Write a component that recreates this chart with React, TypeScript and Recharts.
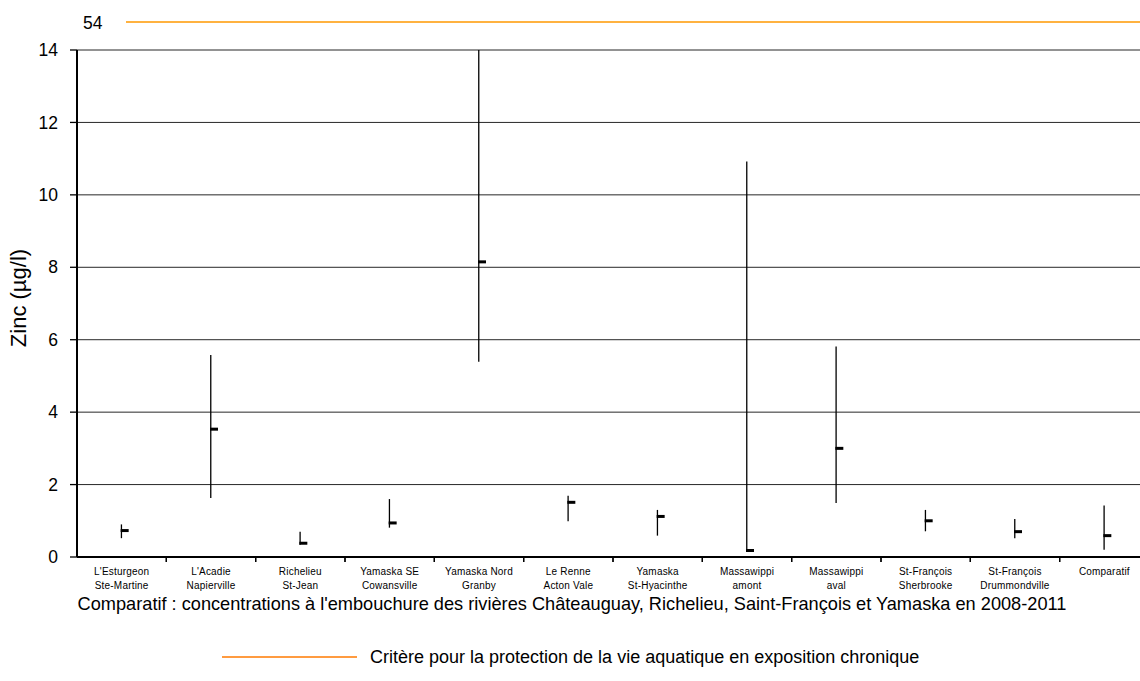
import React from 'react';
import { ComposedChart, Bar, Scatter, XAxis, YAxis, CartesianGrid } from 'recharts';

// Stations (two-line labels)
const stationTop = [
  "L'Esturgeon", "L'Acadie", 'Richelieu', 'Yamaska SE', 'Yamaska Nord', 'Le Renne',
  'Yamaska', 'Massawippi', 'Massawippi', 'St-François', 'St-François', 'Comparatif',
];
const stationBottom = [
  'Ste-Martine', 'Napierville', 'St-Jean', 'Cowansville', 'Granby', 'Acton Vale',
  'St-Hyacinthe', 'amont', 'aval', 'Sherbrooke', 'Drummondville', '',
];

// Zinc (µg/l) : min, max, médiane
const minValues = [0.52, 1.63, 0.34, 0.81, 5.39, 0.99, 0.59, 0.17, 1.49, 0.71, 0.52, 0.2];
const maxValues = [0.9, 5.58, 0.7, 1.6, 14, 1.69, 1.3, 10.92, 5.81, 1.3, 1.05, 1.42];
const medianValues = [0.73, 3.53, 0.38, 0.94, 8.15, 1.51, 1.12, 0.18, 3.0, 1.0, 0.7, 0.59];

const yTicks = [0, 2, 4, 6, 8, 10, 12, 14];

const criterion = 54;
const noteText =
  "Comparatif : concentrations à l'embouchure des rivières Châteauguay, Richelieu, Saint-François et Yamaska en 2008-2011";
const legendText = 'Critère pour la protection de la vie aquatique en exposition chronique';

const data = stationTop.map((s, i) => ({
  id: i,
  name: s,
  range: [minValues[i], maxValues[i]],
  median: medianValues[i],
}));

const FONT = '"Liberation Sans", Arial, sans-serif';
const CHART_W = 1152;
const Y_AXIS_W = 77;
const MARGIN_R = 3;
const band = (CHART_W - Y_AXIS_W - MARGIN_R) / stationTop.length;

const RangeLine = (props: any) => {
  const { x, y, width, height } = props;
  const cx = x + width / 2;
  const top = Math.min(y, y + height);
  const bottom = Math.max(y, y + height);
  return <line x1={cx} x2={cx} y1={top} y2={bottom} stroke="#000" strokeWidth={1.3} />;
};

const MedianMark = (props: any) => {
  const { cx, cy } = props;
  return <line x1={cx - 1} x2={cx + 7} y1={cy} y2={cy} stroke="#000" strokeWidth={3} />;
};

// label centred under the category, tick mark on the boundaries
const StationTick = (props: any) => {
  const { x, y, payload } = props;
  const i = payload.index;
  const edge = x - band / 2;
  return (
    <g>
      {i > 0 && <line x1={edge} x2={edge} y1={y} y2={y + 5} stroke="#000" strokeWidth={1.3} />}
      <line x1={x + band / 2} x2={x + band / 2} y1={y} y2={y + 5} stroke="#000" strokeWidth={1.3} />
      <text x={x} y={y} textAnchor="middle" fontSize={10} fontFamily={FONT} fill="#000" letterSpacing={0.2}>
        <tspan x={x} dy={18}>{stationTop[i]}</tspan>
        <tspan x={x} dy={14}>{stationBottom[i]}</tspan>
      </text>
    </g>
  );
};

export default function App() {
  return (
    <div style={{ position: 'absolute', left: 0, top: 0, width: 1140, height: 681, overflow: 'hidden', background: '#fff' }}>
      <style>{'body{margin:0}'}</style>
      <ComposedChart
        width={CHART_W}
        height={681}
        data={data}
        margin={{ top: 50, right: MARGIN_R, left: 0, bottom: 84 }}
      >
        <CartesianGrid horizontal vertical={false} stroke="#000" strokeWidth={1} strokeOpacity={0.85} />
        <XAxis
          dataKey="id"
          type="category"
          axisLine={{ stroke: '#000', strokeWidth: 2 }}
          tickLine={false}
          tickSize={0}
          tickMargin={0}
          interval={0}
          height={40}
          tick={<StationTick />}
        />
        <YAxis
          domain={[0, 14]}
          ticks={yTicks}
          width={Y_AXIS_W}
          tickSize={7}
          tickMargin={12}
          axisLine={{ stroke: '#000', strokeWidth: 2 }}
          tickLine={{ stroke: '#000', strokeWidth: 1.3 }}
          tick={{ fontSize: 17.5, fontFamily: FONT, fill: '#000' }}
          allowDataOverflow
        />
        <Bar dataKey="range" shape={<RangeLine />} isAnimationActive={false} />
        <Scatter dataKey="median" shape={<MedianMark />} isAnimationActive={false} />
      </ComposedChart>
      <svg
        width={1140}
        height={681}
        style={{ position: 'absolute', left: 0, top: 0, pointerEvents: 'none' }}
        fontFamily={FONT}
      >
        <text x={83} y={29} fontSize={17.5} fill="#000">{criterion}</text>
        <line x1={126} x2={1140} y1={22} y2={22} stroke="#ff9900" strokeWidth={1.5} />
        <text
          x={26}
          y={298}
          fontSize={22}
          fill="#000"
          textAnchor="middle"
          transform="rotate(-90 26 298)"
        >
          Zinc (µg/l)
        </text>
        <text x={572} y={610} fontSize={18.2} fill="#000" textAnchor="middle">{noteText}</text>
        <line x1={222} x2={357} y1={657} y2={657} stroke="#ff7a00" strokeWidth={1.5} />
        <text x={370} y={663} fontSize={18} fill="#000">{legendText}</text>
      </svg>
    </div>
  );
}
